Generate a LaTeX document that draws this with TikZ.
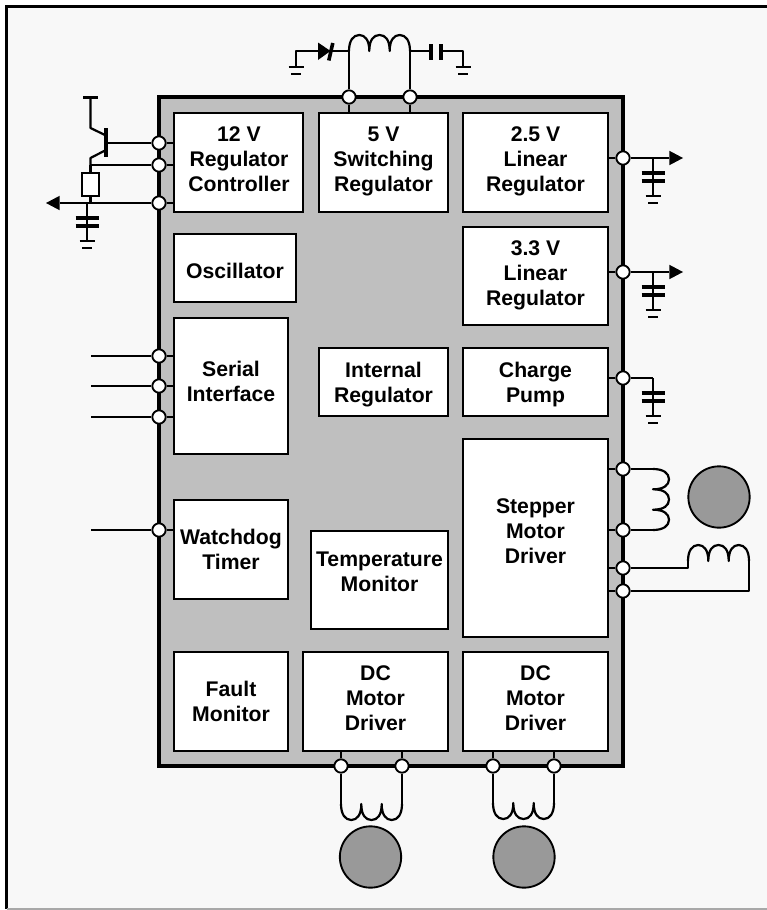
\documentclass[tikz,border=0pt]{standalone}
\usepackage{fontspec}
\setmainfont{Liberation Sans}
\usetikzlibrary{arrows.meta}
\definecolor{pagebg}{HTML}{F8F8F8}
\definecolor{chipfill}{HTML}{BFBFBF}
\definecolor{motorfill}{HTML}{999999}
\definecolor{framegray}{HTML}{A8A8A8}
\tikzset{
  wire/.style={line width=1.65pt,line join=round},
  outarrow/.style={line width=1.65pt,-{Triangle[length=10.2pt,width=10.8pt,line width=0pt]}},
  blockbox/.style={draw=black,fill=white,line width=1.45pt,inner sep=0pt,rectangle},
  blocktext/.style={font=\fontsize{15.9}{18.75}\selectfont\bfseries,align=center,anchor=base,inner sep=0pt},
  pinnode/.style={circle,draw=black,fill=white,line width=1.4pt,minimum size=10pt,inner sep=0pt},
  motor/.style={circle,draw=black,fill=motorfill,line width=1.4pt,minimum size=46pt,inner sep=0pt},
  resistorbox/.style={draw=black,fill=white,line width=1.6pt,inner sep=0pt,minimum width=12.6pt,minimum height=17pt},
  plate/.style={line width=2.7pt},
  capgnd/.pic={
    \draw[wire] (0,0) -- (0,38);
    \draw[plate] (-11.5,15) -- (11.5,15);
    \draw[plate] (-11.5,23) -- (11.5,23);
    \draw[wire] (-7.5,38) -- (7.5,38);
    \draw[wire] (-5,45) -- (5,45);
  },
  gndsym/.pic={
    \draw[wire] (-7.5,0) -- (7.5,0);
    \draw[wire] (-5,7) -- (5,7);
  },
  coilsym/.pic={
    \draw[wire] (0,0) .. controls (0,-10) and (4,-16) .. (10.2,-16)
      .. controls (16,-16) and (20.3,-11) .. (20.3,0)
      .. controls (20.3,-11) and (24.5,-16) .. (30.5,-16)
      .. controls (36.5,-16) and (40.7,-11) .. (40.7,0)
      .. controls (40.7,-11) and (45,-16) .. (50.8,-16)
      .. controls (57,-16) and (61,-10) .. (61,0);
  }
}
% name, x1, y1, x2, y2, text x, last baseline y, text
\newcommand{\blk}[8]{%
  \node[blockbox,minimum width=#4*0.75pt-#2*0.75pt,minimum height=#5*0.75pt-#3*0.75pt] (#1) at ({(#2+#4)/2},{(#3+#5)/2}) {};
  \node[blocktext] (#1-text) at (#6,#7) {#8};
}
\begin{document}
\begin{tikzpicture}[x=0.75pt,y=-0.75pt]
\useasboundingbox (0,0) rectangle (767,910);
% page
\fill[pagebg] (7,7) rectangle (767,909);
\draw[line width=1.7pt] (767,6.5) -- (6.5,6.5) -- (6.5,909);
\draw[framegray,line width=1.1pt] (6.5,909) -- (767,909);
% chip
\node[draw=black,fill=chipfill,line width=3.1pt,inner sep=0pt,minimum width=348pt,minimum height=501.75pt] (chip) at (391,431.5) {};
% blocks
\blk{reg12}{174}{113}{303}{212}{239}{191}{12 V\\Regulator\\Controller}
\blk{reg5}{319}{113}{448}{212}{383.5}{191}{5 V\\Switching\\Regulator}
\blk{reg25}{463}{113}{608}{212}{535.5}{191}{2.5 V\\Linear\\Regulator}
\blk{reg33}{463}{227}{608}{325}{535.5}{305}{3.3 V\\Linear\\Regulator}
\blk{osc}{174}{234}{296}{302}{235}{278}{Oscillator}
\blk{serial}{174}{318}{288}{454}{231}{401}{Serial\\Interface}
\blk{intreg}{319}{348}{448}{416}{383.5}{402}{Internal\\Regulator}
\blk{pump}{463}{348}{608}{416}{535.5}{402}{Charge\\Pump}
\blk{stepper}{463}{439}{608}{637}{535.5}{563}{Stepper\\Motor\\Driver}
\blk{watchdog}{174}{500}{288}{599}{231}{569}{Watchdog\\Timer}
\blk{temp}{311}{531}{448}{629}{379.5}{591}{Temperature\\Monitor}
\blk{fault}{174}{652}{288}{751}{231}{721}{Fault\\Monitor}
\blk{dca}{303}{652}{448}{751}{375.5}{730}{DC\\Motor\\Driver}
\blk{dcb}{463}{652}{608}{751}{535.5}{730}{DC\\Motor\\Driver}
% pins
\foreach \n/\x/\y in {pa/159/143,pb/159/165,pc/159/203,ps1/159/356,ps2/159/386,ps3/159/417,pw/159/530,
  pt1/349/97,pt2/410/97,pr1/623/158,pr2/623/272,pr3/623/378,
  pm1/623/469,pm2/623/530,pm3/623/568,pm4/623/591,
  pd1/341/766,pd2/402/766,pd3/493/766,pd4/554/766}
  \node[pinnode] (\n) at (\x,\y) {};
% stubs from pins to blocks
\draw[wire] (pa) -- (reg12.west |- pa);
\draw[wire] (pb) -- (reg12.west |- pb);
\draw[wire] (pc) -- (reg12.west |- pc);
\draw[wire] (ps1) -- (serial.west |- ps1);
\draw[wire] (ps2) -- (serial.west |- ps2);
\draw[wire] (ps3) -- (serial.west |- ps3);
\draw[wire] (pw) -- (watchdog.west |- pw);
\draw[wire] (pt1) -- (reg5.north -| pt1);
\draw[wire] (pt2) -- (reg5.north -| pt2);
\draw[wire] (pr1) -- (reg25.east |- pr1);
\draw[wire] (pr2) -- (reg33.east |- pr2);
\draw[wire] (pr3) -- (pump.east |- pr3);
\draw[wire] (pm1) -- (stepper.east |- pm1);
\draw[wire] (pm2) -- (stepper.east |- pm2);
\draw[wire] (pm3) -- (stepper.east |- pm3);
\draw[wire] (pm4) -- (stepper.east |- pm4);
\draw[wire] (pd1) -- (dca.south -| pd1);
\draw[wire] (pd2) -- (dca.south -| pd2);
\draw[wire] (pd3) -- (dcb.south -| pd3);
\draw[wire] (pd4) -- (dcb.south -| pd4);
% serial and watchdog inputs
\coordinate (is1) at (91,356);
\coordinate (is2) at (91,386);
\coordinate (is3) at (91,417);
\coordinate (iw) at (91,530);
\draw[wire] (is1) -- (ps1);
\draw[wire] (is2) -- (ps2);
\draw[wire] (is3) -- (ps3);
\draw[wire] (iw) -- (pw);
% external transistor
\coordinate (supL) at (83,97.5);
\coordinate (supR) at (98,97.5);
\coordinate (col) at (90.5,97.5);
\coordinate (colk) at (90.5,128);
\coordinate (cole) at (106,135.5);
\coordinate (baseT) at (106,128);
\coordinate (baseB) at (106,157);
\coordinate (base) at (106,143);
\coordinate (eme) at (106,150);
\coordinate (emk) at (90.5,158);
\coordinate (emn) at (90.5,165);
\draw[wire] (supL) -- (supR);
\draw[wire] (col) -- (colk) -- (cole);
\draw[line width=2.4pt] (baseT) -- (baseB);
\draw[wire] (base) -- (pa);
\draw[wire] (eme) -- (emk) -- (emn);
\draw[wire] (emn) -- (pb);
\node[resistorbox] (res) at (90.5,184.5) {};
\coordinate (resb) at (90.5,203);
\draw[wire] (emn) -- (res.north);
\draw[wire] (res.south) -- (resb);
\coordinate (otip) at (46,203);
\draw[outarrow] (pc) -- (otip);
\pic at (87,203) {capgnd};
% top: diode, inductor, capacitor
\coordinate (gl) at (296,67);
\coordinate (glc) at (296,51);
\coordinate (dk) at (330,51);
\coordinate (la) at (349,51);
\coordinate (lb) at (410,51);
\coordinate (ca) at (431,51);
\coordinate (cb) at (441,51);
\coordinate (grc) at (463,51);
\coordinate (gr) at (463,67);
\draw[wire] (gl) -- (glc) -- (dk);
\fill (318,42.5) -- (318,60) -- (330.5,51) -- cycle;
\draw[line width=2.7pt] (332.8,43) -- (328.8,60.5);
\draw[wire] (dk) -- (la);
\draw[wire] (pt1) -- (la);
\draw[wire] (pt2) -- (lb);
\pic at (la) {coilsym};
\draw[wire] (lb) -- (ca);
\draw[plate] (431,44) -- (431,59.5);
\draw[plate] (441,44) -- (441,59.5);
\draw[wire] (cb) -- (grc) -- (gr);
\pic at (gl) {gndsym};
\pic at (gr) {gndsym};
% right outputs
\coordinate (t25) at (683,158);
\coordinate (t33) at (683,272);
\draw[outarrow] (pr1) -- (t25);
\draw[outarrow] (pr2) -- (t33);
\pic at (653,158) {capgnd};
\pic at (653,272) {capgnd};
\coordinate (cpk) at (653,378);
\draw[wire] (pr3) -- (cpk);
\pic at (cpk) {capgnd};
% stepper coils and motor
\coordinate (sa) at (653,469);
\coordinate (sb) at (653,530);
\draw[wire] (pm1) -- (sa);
\draw[wire] (pm2) -- (sb);
\pic[rotate=-90] at (sa) {coilsym};
\node[motor] (m1) at (719,497) {};
\coordinate (sc) at (688,568);
\coordinate (sd) at (688,561);
\coordinate (se) at (749,561);
\coordinate (sf) at (749,591);
\draw[wire] (pm3) -- (sc) -- (sd);
\pic at (sd) {coilsym};
\draw[wire] (se) -- (sf) -- (pm4);
% bottom coils and motors
\coordinate (da) at (341,804);
\coordinate (db) at (402,804);
\coordinate (dc) at (493,803);
\coordinate (dd) at (554,803);
\draw[wire] (pd1) -- (da);
\draw[wire] (pd2) -- (db);
\draw[wire] (pd3) -- (dc);
\draw[wire] (pd4) -- (dd);
\pic[yscale=-1] at (da) {coilsym};
\pic[yscale=-1] at (dc) {coilsym};
\node[motor] (m2) at (370.5,857) {};
\node[motor] (m3) at (524,857) {};
\end{tikzpicture}
\end{document}
